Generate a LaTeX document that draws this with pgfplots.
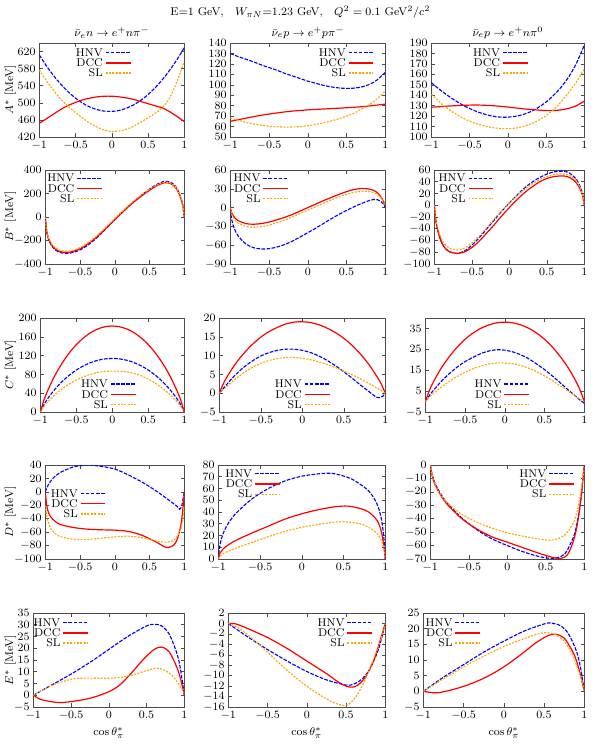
\documentclass[border=0pt]{standalone}
\usepackage{pgfplots}
\pgfplotsset{compat=1.18}
\definecolor{slorange}{RGB}{255,165,0}
\tikzset{
  hnv/.style={draw=blue, line width=0.8pt, dash pattern=on 2.6pt off 1pt, smooth},
  dcc/.style={draw=red, line width=0.85pt, smooth},
  sl/.style={draw=slorange, line width=0.8pt, dash pattern=on 1.4pt off 1pt, smooth},
}
\pgfplotsset{
  panel/.style={
    scale only axis, height=2.35cm, anchor=south west,
    xmin=-1, xmax=1, xtick={-1,-0.5,0,0.5,1},
    tick align=inside, major tick length=2.5pt,
    axis line style={black!70}, every tick/.style={black!70},
    tick label style={font=\footnotesize},
    yticklabel style={inner sep=1pt, xshift=-1.5pt},
    xticklabel style={inner sep=1pt, yshift=-1.5pt},
    legend plot pos=right, legend cell align=right,
    legend image code/.code={\draw[##1, line width=1pt] (0cm,0cm) -- (0.62cm,0cm);},
    legend style={draw=none, fill=none, font=\footnotesize, row sep=0pt, inner sep=0pt,
      /tikz/column sep=1pt,
      nodes={inner sep=0.6pt, text height=5.6pt, text depth=0.5pt}},
  },
}
\begin{document}
\begin{tikzpicture}
\path (0,0) rectangle (15,-18.75);
\node[font=\footnotesize] at (7.5,-0.3) {E=1 GeV,\quad $W_{\pi N}$=1.23 GeV,\quad $Q^2=0.1$ GeV$^2/c^2$};
\node[font=\footnotesize] at (2.79,-0.82) {$\bar\nu_e n\to e^+ n\pi^-$};
\node[font=\footnotesize] at (7.69,-0.82) {$\bar\nu_e p\to e^+ p\pi^-$};
\node[font=\footnotesize] at (12.69,-0.82) {$\bar\nu_e p\to e^+ n\pi^0$};
\node[font=\footnotesize, rotate=90] at (0.25,-2.25) {$A^*$ [MeV]};
\node[font=\footnotesize, rotate=90] at (0.25,-5.41) {$B^*$ [MeV]};
\node[font=\footnotesize, rotate=90] at (0.25,-9.12) {$C^*$ [MeV]};
\node[font=\footnotesize, rotate=90] at (0.25,-12.8) {$D^*$ [MeV]};
\node[font=\footnotesize, rotate=90] at (0.25,-16.5) {$E^*$ [MeV]};
\node[font=\footnotesize] at (2.71,-18.33) {$\cos\theta^*_\pi$};
\node[font=\footnotesize] at (7.66,-18.33) {$\cos\theta^*_\pi$};
\node[font=\footnotesize] at (12.59,-18.33) {$\cos\theta^*_\pi$};

% ---------------- row 1: A*
\begin{axis}[panel, at={(0.975cm,-3.425cm)}, width=3.625cm, ymin=420, ymax=640, ytick={420,460,...,620},
  legend style={at={(0.636,0.955)}, anchor=north east}]
\addplot[hnv, mark=none] coordinates {(-1,612) (-0.9,586) (-0.8,563) (-0.7,543) (-0.6,525.5) (-0.5,511) (-0.4,499) (-0.3,490) (-0.2,484) (-0.1,480.5) (0,480) (0.1,482) (0.2,487.3) (0.3,495.2) (0.4,505.9) (0.5,519.4) (0.6,535.7) (0.7,554.8) (0.8,576.7) (0.9,601.4) (1,629)};
\addplot[dcc, mark=none] coordinates {(-1,452) (-0.9,463) (-0.8,474) (-0.7,485) (-0.6,494) (-0.5,501) (-0.4,507) (-0.3,511) (-0.2,514) (-0.1,515.5) (0,515.5) (0.1,514) (0.2,511.5) (0.3,508) (0.4,503) (0.5,498) (0.6,493) (0.7,488) (0.8,479) (0.9,468) (1,456)};
\addplot[sl, mark=none] coordinates {(-1,577) (-0.9,551) (-0.8,528) (-0.7,508) (-0.6,491) (-0.5,477) (-0.4,464) (-0.3,452) (-0.2,443) (-0.1,436) (0,433) (0.1,434) (0.2,438) (0.3,445) (0.4,455) (0.5,465) (0.6,476) (0.7,489) (0.8,512) (0.9,550) (1,597)};
\legend{HNV,DCC,SL}
\end{axis}
\begin{axis}[panel, at={(5.75cm,-3.425cm)}, width=3.875cm, ymin=50, ymax=140, ytick={50,60,...,140},
  legend style={at={(0.93,0.955)}, anchor=north east}]
\addplot[hnv, mark=none] coordinates {(-1,130) (-0.9,127) (-0.8,124.5) (-0.7,122) (-0.6,119) (-0.5,116.5) (-0.4,114) (-0.3,111) (-0.2,108.5) (-0.1,106) (0,103.5) (0.1,101.5) (0.2,99.5) (0.3,98) (0.4,97) (0.5,96.5) (0.6,96.8) (0.7,98) (0.8,100.5) (0.9,105) (1,112)};
\addplot[dcc, mark=none] coordinates {(-1,65) (-0.9,66.5) (-0.8,68) (-0.7,69.5) (-0.6,70.8) (-0.5,72) (-0.4,73) (-0.3,74) (-0.2,74.8) (-0.1,75.4) (0,76) (0.1,76.4) (0.2,76.8) (0.3,77.2) (0.4,77.6) (0.5,78) (0.6,78.5) (0.7,79) (0.8,79.8) (0.9,80.6) (1,81.5)};
\addplot[sl, mark=none] coordinates {(-1,68) (-0.9,66) (-0.8,64) (-0.7,62.5) (-0.6,61.3) (-0.5,60.4) (-0.4,59.8) (-0.3,59.5) (-0.2,59.6) (-0.1,60) (0,60.8) (0.1,62) (0.2,63.5) (0.3,65.3) (0.4,67.5) (0.5,70) (0.6,73) (0.7,76.8) (0.8,81.3) (0.9,87) (1,94)};
\legend{HNV,DCC,SL}
\end{axis}
\begin{axis}[panel, at={(10.775cm,-3.425cm)}, width=3.825cm, ymin=100, ymax=190, ytick={100,110,...,190},
  legend style={at={(0.637,0.955)}, anchor=north east}]
\addplot[hnv, mark=none] coordinates {(-1,152) (-0.9,146) (-0.8,140.5) (-0.7,135.5) (-0.6,131) (-0.5,127.3) (-0.4,124.2) (-0.3,121.8) (-0.2,120) (-0.1,119) (0,119) (0.1,119.8) (0.2,121.5) (0.3,124.3) (0.4,128.3) (0.5,133.5) (0.6,140) (0.7,148) (0.8,158) (0.9,171) (1,188)};
\addplot[dcc, mark=none] coordinates {(-1,128.5) (-0.8,129.5) (-0.6,130.3) (-0.4,130.6) (-0.2,130) (0,128.7) (0.2,127) (0.4,125.8) (0.5,125.3) (0.6,125.3) (0.7,126) (0.8,127.5) (0.9,130) (1,134.5)};
\addplot[sl, mark=none] coordinates {(-1,141) (-0.9,134) (-0.8,128) (-0.7,123) (-0.6,118.7) (-0.5,115.2) (-0.4,112.5) (-0.3,110.5) (-0.2,109) (-0.1,108.2) (0,108) (0.1,108.5) (0.2,110) (0.3,112.5) (0.4,116) (0.5,120.5) (0.6,126.5) (0.7,134) (0.8,143) (0.9,153) (1,165)};
\legend{HNV,DCC,SL}
\end{axis}

% ---------------- row 2: B*
\begin{axis}[panel, at={(1.125cm,-6.6cm)}, width=3.475cm, ymin=-400, ymax=400, ytick={-400,-200,...,400},
  legend style={at={(0.415,0.97)}, anchor=north east}]
\addplot[hnv, mark=none] coordinates {(-1,0) (-0.98,-125) (-0.95,-195) (-0.9,-252) (-0.85,-283) (-0.8,-300) (-0.7,-311) (-0.6,-302) (-0.5,-280) (-0.4,-245) (-0.3,-198) (-0.2,-143) (-0.1,-84) (0,-24) (0.1,35) (0.2,92) (0.3,145) (0.4,193) (0.5,238) (0.6,276) (0.7,302) (0.75,304) (0.8,297) (0.85,276) (0.9,238) (0.95,165) (0.98,95) (1,0)};
\addplot[dcc, mark=none] coordinates {(-1,0) (-0.98,-120) (-0.95,-190) (-0.9,-245) (-0.85,-275) (-0.8,-292) (-0.7,-302) (-0.6,-293) (-0.5,-270) (-0.4,-235) (-0.3,-190) (-0.2,-137) (-0.1,-80) (0,-22) (0.1,35) (0.2,90) (0.3,140) (0.4,185) (0.5,228) (0.6,265) (0.7,290) (0.75,292) (0.8,285) (0.85,265) (0.9,228) (0.95,158) (0.98,90) (1,0)};
\addplot[sl, mark=none] coordinates {(-1,0) (-0.98,-115) (-0.95,-182) (-0.9,-235) (-0.85,-265) (-0.8,-282) (-0.7,-292) (-0.6,-283) (-0.5,-260) (-0.4,-225) (-0.3,-180) (-0.2,-127) (-0.1,-70) (0,-12) (0.1,45) (0.2,100) (0.3,150) (0.4,196) (0.5,237) (0.6,272) (0.7,295) (0.75,297) (0.8,290) (0.85,270) (0.9,233) (0.95,162) (0.98,92) (1,0)};
\legend{HNV,DCC,SL}
\end{axis}
\begin{axis}[panel, at={(5.75cm,-6.6cm)}, width=3.875cm, ymin=-90, ymax=60, ytick={-90,-60,...,60},
  legend style={at={(0.38,0.97)}, anchor=north east}]
\addplot[hnv, mark=none] coordinates {(-1,-3) (-0.98,-20) (-0.95,-33) (-0.9,-45) (-0.8,-58) (-0.7,-64) (-0.6,-66) (-0.5,-65.5) (-0.4,-63) (-0.3,-59) (-0.2,-53.5) (-0.1,-47) (0,-40) (0.1,-33) (0.2,-25.5) (0.3,-18) (0.4,-11) (0.5,-4.5) (0.6,1.5) (0.7,7) (0.8,11.5) (0.85,13) (0.9,12.5) (0.95,9) (0.98,5) (1,0)};
\addplot[dcc, mark=none] coordinates {(-1,0) (-0.98,-9) (-0.95,-15) (-0.9,-20.5) (-0.8,-25.5) (-0.7,-26.5) (-0.6,-25.5) (-0.5,-23) (-0.4,-19.5) (-0.3,-15.5) (-0.2,-11) (-0.1,-5.5) (0,0) (0.1,5.5) (0.2,11) (0.3,16) (0.4,21) (0.5,25.5) (0.6,29) (0.7,30.5) (0.8,29.5) (0.85,27.5) (0.9,23.5) (0.95,16) (0.98,9) (1,3)};
\addplot[sl, mark=none] coordinates {(-1,0) (-0.98,-11) (-0.95,-18) (-0.9,-24.5) (-0.8,-30) (-0.7,-31.5) (-0.6,-30.5) (-0.5,-28) (-0.4,-24) (-0.3,-20) (-0.2,-15) (-0.1,-9.5) (0,-4) (0.1,1.5) (0.2,7) (0.3,12) (0.4,17) (0.5,21) (0.6,24.5) (0.7,26) (0.8,25.5) (0.85,24) (0.9,21) (0.95,14.5) (0.98,8) (1,3)};
\legend{HNV,DCC,SL}
\end{axis}
\begin{axis}[panel, at={(10.85cm,-6.6cm)}, width=3.75cm, ymin=-100, ymax=60, ytick={-100,-80,...,60},
  legend style={at={(0.40,0.97)}, anchor=north east}]
\addplot[hnv, mark=none] coordinates {(-1,0) (-0.98,-25) (-0.95,-45) (-0.9,-64) (-0.85,-74) (-0.8,-79) (-0.7,-82) (-0.6,-78) (-0.5,-68) (-0.4,-55) (-0.3,-40) (-0.2,-25) (-0.1,-10) (0,4) (0.1,17) (0.2,29) (0.3,39) (0.4,47) (0.5,53) (0.6,57) (0.7,58) (0.75,57.5) (0.8,55) (0.85,50) (0.9,43) (0.95,30) (0.98,17) (1,0)};
\addplot[dcc, mark=none] coordinates {(-1,0) (-0.98,-25) (-0.95,-45) (-0.9,-64) (-0.85,-74) (-0.8,-79) (-0.7,-82) (-0.6,-79.5) (-0.5,-72) (-0.4,-61) (-0.3,-47) (-0.2,-33) (-0.1,-18) (0,-4) (0.1,9) (0.2,21) (0.3,31) (0.4,39.5) (0.5,45.5) (0.6,49) (0.7,50) (0.75,49.5) (0.8,47.5) (0.85,43.5) (0.9,37) (0.95,26) (0.98,15) (1,0)};
\addplot[sl, mark=none] coordinates {(-1,0) (-0.98,-23) (-0.95,-41) (-0.9,-58) (-0.85,-68) (-0.8,-73) (-0.7,-76) (-0.6,-73) (-0.5,-64) (-0.4,-52) (-0.3,-38) (-0.2,-23) (-0.1,-9) (0,4) (0.1,16) (0.2,27) (0.3,36) (0.4,43.5) (0.5,49) (0.6,52.5) (0.7,53.5) (0.75,53) (0.8,51) (0.85,47) (0.9,40) (0.95,28) (0.98,16) (1,0)};
\legend{HNV,DCC,SL}
\end{axis}

% ---------------- row 3: C*
\begin{axis}[panel, at={(1.0cm,-10.3cm)}, width=3.6cm, ymin=0, ymax=200, ytick={0,40,...,200},
  legend style={at={(0.669,0.02)}, anchor=south east}]
\addplot[hnv, mark=none] coordinates {(-1,0) (-0.95,15.7) (-0.9,27.8) (-0.8,47.9) (-0.7,64.3) (-0.6,78) (-0.5,89.3) (-0.4,98.3) (-0.3,105.2) (-0.2,110.1) (-0.1,113) (0,114) (0.1,113) (0.2,110.1) (0.3,105.2) (0.4,98.3) (0.5,89.3) (0.6,78) (0.7,64.3) (0.8,47.9) (0.9,27.8) (0.95,15.7) (1,0)};
\addplot[dcc, mark=none] coordinates {(-1,0) (-0.95,25.3) (-0.9,44.7) (-0.8,76.9) (-0.7,103.2) (-0.6,125.2) (-0.5,143.3) (-0.4,157.7) (-0.3,168.9) (-0.2,176.8) (-0.1,181.4) (0,183) (0.1,181.4) (0.2,176.8) (0.3,168.9) (0.4,157.7) (0.5,143.3) (0.6,125.2) (0.7,103.2) (0.8,76.9) (0.9,44.7) (0.95,25.3) (1,0)};
\addplot[sl, mark=none] coordinates {(-1,0) (-0.95,12) (-0.9,21.2) (-0.8,36.5) (-0.7,49.1) (-0.6,59.5) (-0.5,68.1) (-0.4,75) (-0.3,80.3) (-0.2,84) (-0.1,86.3) (0,87) (0.1,87) (0.2,85.5) (0.3,82) (0.4,77) (0.5,70) (0.6,61) (0.7,50) (0.8,37) (0.9,21.5) (0.95,12) (1,0)};
\legend{HNV,DCC,SL}
\end{axis}
\begin{axis}[panel, at={(5.475cm,-10.3cm)}, width=4.15cm, ymin=-5, ymax=20, ytick={-5,0,...,20},
  legend style={at={(0.67,0.02)}, anchor=south east}]
\addplot[hnv, mark=none] coordinates {(-1,0) (-0.95,1.3) (-0.9,2.6) (-0.8,5) (-0.7,7) (-0.6,8.6) (-0.5,9.9) (-0.4,10.8) (-0.3,11.4) (-0.2,11.7) (-0.1,11.7) (0,11.4) (0.1,10.8) (0.2,9.9) (0.3,8.7) (0.4,7.3) (0.5,5.7) (0.6,4) (0.7,2.2) (0.8,0.5) (0.85,-0.4) (0.9,-1.1) (0.93,-1.2) (0.97,-0.8) (1,0)};
\addplot[dcc, mark=none] coordinates {(-1,0) (-0.95,2.6) (-0.9,4.6) (-0.8,8) (-0.7,10.7) (-0.6,13) (-0.5,14.9) (-0.4,16.4) (-0.3,17.5) (-0.2,18.4) (-0.1,18.9) (0,19) (0.1,18.8) (0.2,18.2) (0.3,17.3) (0.4,16.1) (0.5,14.6) (0.6,12.7) (0.7,10.4) (0.8,7.7) (0.9,4.4) (0.95,2.5) (1,0)};
\addplot[sl, mark=none] coordinates {(-1,0) (-0.95,1) (-0.9,2) (-0.8,3.9) (-0.7,5.5) (-0.6,6.9) (-0.5,7.9) (-0.4,8.7) (-0.3,9.2) (-0.2,9.5) (-0.1,9.5) (0,9.3) (0.1,8.9) (0.2,8.3) (0.3,7.6) (0.4,6.8) (0.5,5.9) (0.6,4.9) (0.7,3.8) (0.8,2.6) (0.9,1.4) (0.95,0.7) (1,0)};
\legend{HNV,DCC,SL}
\end{axis}
\begin{axis}[panel, at={(10.625cm,-10.3cm)}, width=3.975cm, ymin=-5, ymax=40, ytick={-5,5,...,35},
  legend style={at={(0.66,0.02)}, anchor=south east}]
\addplot[hnv, mark=none] coordinates {(-1,0) (-0.95,2.8) (-0.9,5.3) (-0.8,9.6) (-0.7,13.3) (-0.6,16.5) (-0.5,19.1) (-0.4,21.2) (-0.3,23) (-0.2,24.2) (-0.1,24.8) (0,24.6) (0.1,23.8) (0.2,22.4) (0.3,20.5) (0.4,18) (0.5,15.3) (0.6,12.2) (0.7,8.9) (0.8,5.5) (0.9,2.2) (0.95,0.6) (1,-0.8)};
\addplot[dcc, mark=none] coordinates {(-1,0) (-0.95,5.2) (-0.9,9.3) (-0.8,16) (-0.7,21.4) (-0.6,26) (-0.5,29.8) (-0.4,32.8) (-0.3,35.1) (-0.2,36.7) (-0.1,37.7) (0,38) (0.1,37.7) (0.2,36.7) (0.3,35.1) (0.4,32.8) (0.5,29.8) (0.6,26) (0.7,21.4) (0.8,16) (0.9,9.3) (0.95,5.2) (1,0)};
\addplot[sl, mark=none] coordinates {(-1,0) (-0.95,2) (-0.9,3.8) (-0.8,6.9) (-0.7,9.6) (-0.6,12) (-0.5,14) (-0.4,15.7) (-0.3,17) (-0.2,18) (-0.1,18.5) (0,18.5) (0.1,18.1) (0.2,17.3) (0.3,16) (0.4,14.3) (0.5,12.3) (0.6,10) (0.7,7.5) (0.8,4.9) (0.9,2.2) (0.95,1) (1,0)};
\legend{HNV,DCC,SL}
\end{axis}

% ---------------- row 4: D*
\begin{axis}[panel, at={(1.125cm,-13.975cm)}, width=3.475cm, ymin=-100, ymax=40, ytick={-100,-80,...,40},
  legend style={at={(0.44,0.755)}, anchor=north east}]
\addplot[hnv, mark=none] coordinates {(-1,0) (-0.95,12) (-0.9,19) (-0.8,28) (-0.6,37) (-0.4,40) (-0.2,38) (0,34) (0.2,25) (0.4,14) (0.6,1) (0.8,-14) (0.9,-22) (0.93,-26) (0.96,-22) (0.98,-12) (1,0)};
\addplot[dcc, mark=none] coordinates {(-1,0) (-0.98,-20) (-0.95,-32) (-0.9,-40) (-0.8,-48) (-0.6,-53) (-0.4,-55.5) (-0.2,-56.5) (0,-57) (0.2,-59) (0.4,-65) (0.6,-75) (0.7,-81) (0.77,-83) (0.85,-79) (0.9,-70) (0.95,-50) (0.98,-25) (1,0)};
\addplot[sl, mark=none] coordinates {(-1,-20) (-0.98,-35) (-0.95,-48) (-0.9,-58) (-0.8,-66) (-0.6,-70.5) (-0.4,-71) (-0.2,-69) (0,-67) (0.2,-66) (0.4,-68.5) (0.6,-73) (0.75,-75) (0.85,-72) (0.9,-66) (0.95,-55) (0.98,-40) (1,-20)};
\legend{HNV,DCC,SL}
\end{axis}
\begin{axis}[panel, at={(5.45cm,-13.975cm)}, width=4.175cm, ymin=0, ymax=80, ytick={0,10,...,80},
  legend style={at={(0.375,0.965)}, anchor=north east}]
\addplot[hnv, mark=none] coordinates {(-1,0) (-0.98,12) (-0.95,20) (-0.9,28) (-0.8,38) (-0.6,51) (-0.4,60) (-0.2,66.5) (0,70.5) (0.2,72.5) (0.3,73) (0.4,72.5) (0.6,68) (0.8,58) (0.9,47) (0.95,35) (0.98,20) (1,0)};
\addplot[dcc, mark=none] coordinates {(-1,0) (-0.98,5) (-0.95,8) (-0.9,11) (-0.8,15.5) (-0.6,22) (-0.4,28) (-0.2,34) (0,38.5) (0.2,42) (0.4,44.5) (0.55,45) (0.7,43) (0.8,40) (0.9,33) (0.95,24) (0.98,12) (1,0)};
\addplot[sl, mark=none] coordinates {(-1,0) (-0.98,2.5) (-0.95,4) (-0.9,6) (-0.8,9) (-0.6,14) (-0.4,19) (-0.2,23.5) (0,27) (0.2,29.5) (0.4,31.5) (0.5,31.8) (0.7,30) (0.8,27) (0.9,22) (0.95,16) (0.98,10) (1,2)};
\legend{HNV,DCC,SL}
\end{axis}
\begin{axis}[panel, at={(10.75cm,-13.975cm)}, width=3.85cm, ymin=-70, ymax=0, ytick={-70,-60,...,0},
  legend style={at={(0.94,0.965)}, anchor=north east}]
\addplot[hnv, mark=none] coordinates {(-1,0) (-0.98,-6) (-0.95,-12) (-0.9,-18) (-0.8,-27) (-0.6,-39) (-0.4,-48) (-0.2,-55) (0,-60) (0.2,-64.5) (0.4,-68) (0.55,-69.5) (0.65,-69) (0.75,-66) (0.85,-55) (0.9,-45) (0.95,-28) (1,0)};
\addplot[dcc, mark=none] coordinates {(-1,0) (-0.98,-7) (-0.95,-13) (-0.9,-19) (-0.8,-28) (-0.6,-39.5) (-0.4,-47.5) (-0.2,-53.5) (0,-57.5) (0.2,-61.5) (0.4,-65.5) (0.6,-69) (0.7,-69.5) (0.78,-67) (0.85,-58) (0.9,-47) (0.95,-28) (1,0)};
\addplot[sl, mark=none] coordinates {(-1,0) (-0.98,-7) (-0.95,-13) (-0.9,-19) (-0.8,-27) (-0.6,-36.5) (-0.4,-42.5) (-0.2,-47) (0,-50.5) (0.2,-53) (0.4,-55) (0.55,-56) (0.65,-55) (0.75,-52) (0.85,-44) (0.9,-36) (0.95,-22) (1,-2)};
\legend{HNV,DCC,SL}
\end{axis}

% ---------------- row 5: E*
\begin{axis}[panel, at={(0.825cm,-17.675cm)}, width=3.775cm, ymin=-5, ymax=35, ytick={-5,0,...,35},
  legend style={at={(0.37,0.955)}, anchor=north east}]
\addplot[hnv, mark=none] coordinates {(-1,0) (-0.75,4.5) (-0.5,9) (-0.25,14) (0,19.5) (0.25,25) (0.5,29.5) (0.6,30.2) (0.7,29.5) (0.8,26) (0.9,18) (0.95,11) (1,0)};
\addplot[dcc, mark=none] coordinates {(-1,0) (-0.9,-1.8) (-0.75,-2.8) (-0.65,-3.1) (-0.5,-2.7) (-0.25,-1.3) (0,1.5) (0.15,4.5) (0.3,9.5) (0.45,15) (0.6,19.5) (0.7,20.5) (0.8,18.5) (0.9,12) (0.95,7) (1,0)};
\addplot[sl, mark=none] coordinates {(-1,0) (-0.75,4.2) (-0.5,6.8) (-0.3,7.3) (-0.1,7.2) (0.1,7.4) (0.3,8.5) (0.5,10.5) (0.65,11.5) (0.75,10.5) (0.85,8) (0.92,5) (1,1)};
\legend{HNV,DCC,SL}
\end{axis}
\begin{axis}[panel, at={(5.7cm,-17.675cm)}, width=3.925cm, ymin=-16, ymax=2, ytick={-16,-14,...,2},
  legend style={at={(0.923,0.955)}, anchor=north east}]
\addplot[hnv, mark=none] coordinates {(-1,0) (-0.75,-2.6) (-0.5,-5) (-0.25,-7.2) (0,-9.2) (0.25,-10.8) (0.5,-11.8) (0.6,-11.6) (0.7,-10.7) (0.8,-8.8) (0.9,-5.5) (0.95,-3) (1,0)};
\addplot[dcc, mark=none] coordinates {(-1,0) (-0.9,-0.1) (-0.75,-1) (-0.5,-2.7) (-0.25,-4.8) (0,-7.2) (0.25,-9.6) (0.4,-11.2) (0.5,-12) (0.58,-12.2) (0.65,-11.8) (0.75,-10.2) (0.85,-7.2) (0.9,-5) (0.95,-2.5) (1,0)};
\addplot[sl, mark=none] coordinates {(-1,0) (-0.9,-0.6) (-0.75,-2.2) (-0.5,-5.5) (-0.25,-9) (0,-12) (0.2,-14) (0.35,-15.2) (0.47,-15.7) (0.55,-15.3) (0.65,-13.5) (0.75,-10.5) (0.85,-6.8) (0.9,-4.8) (0.95,-2.5) (1,0)};
\legend{HNV,DCC,SL}
\end{axis}
\begin{axis}[panel, at={(10.575cm,-17.675cm)}, width=4.025cm, ymin=-5, ymax=25, ytick={-5,0,...,25},
  legend style={at={(0.36,0.955)}, anchor=north east}]
\addplot[hnv, mark=none] coordinates {(-1,0) (-0.75,4.5) (-0.5,8.5) (-0.25,12.5) (0,16) (0.25,19.2) (0.5,21.5) (0.58,21.8) (0.7,21) (0.8,18.5) (0.9,13) (0.95,8) (1,0)};
\addplot[dcc, mark=none] coordinates {(-1,0) (-0.9,-0.4) (-0.8,-0.4) (-0.6,0.8) (-0.4,2.5) (-0.2,4.8) (0,7.8) (0.2,11.5) (0.4,15.5) (0.55,17.8) (0.65,18.2) (0.75,17) (0.85,13) (0.9,10) (0.95,5.5) (1,0)};
\addplot[sl, mark=none] coordinates {(-1,0) (-0.75,4) (-0.5,7.8) (-0.25,11.2) (0,14.3) (0.25,16.8) (0.45,18.5) (0.55,18.7) (0.65,18) (0.75,16) (0.85,12) (0.9,8.5) (0.95,5) (1,0)};
\legend{HNV,DCC,SL}
\end{axis}
\end{tikzpicture}
\end{document}
